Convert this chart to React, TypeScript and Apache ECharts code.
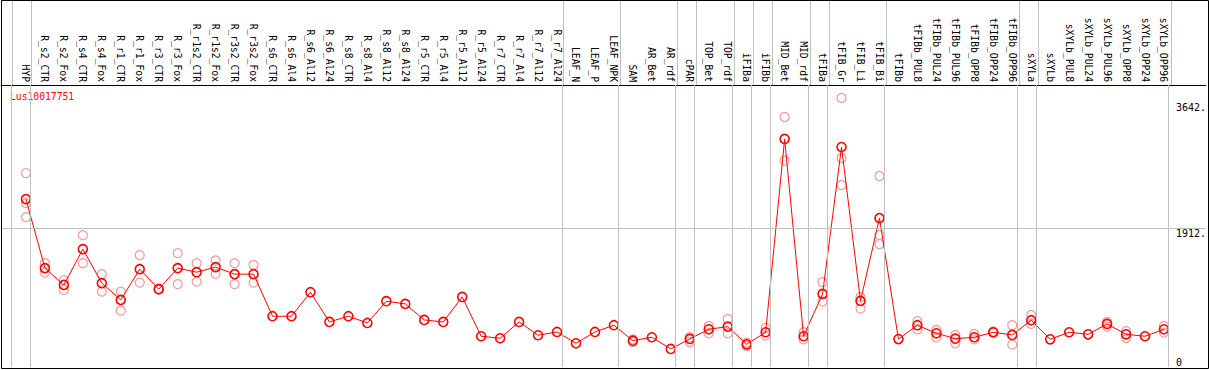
import React, { useEffect, useRef } from "react";
import * as echarts from "echarts";

const geneName = "Lus10017751";

const categories = [
  "HYP", "R_s2_CTR", "R_s2_Fox", "R_s4_CTR", "R_s4_Fox", "R_r1_CTR", "R_r1_Fox", "R_r3_CTR", "R_r3_Fox",
  "R_r1s2_CTR", "R_r1s2_Fox", "R_r3s2_CTR", "R_r3s2_Fox", "R_s6_CTR", "R_s6_Al4", "R_s6_Al12", "R_s6_Al24",
  "R_s8_CTR", "R_s8_Al4", "R_s8_Al12", "R_s8_Al24", "R_r5_CTR", "R_r5_Al4", "R_r5_Al12", "R_r5_Al24",
  "R_r7_CTR", "R_r7_Al4", "R_r7_Al12", "R_r7_Al24", "LEAF_N", "LEAF_P", "LEAF_NPK", "SAM", "AR_Bet", "AR_rdf",
  "cPAR", "TOP_Bet", "TOP_rdf", "iFIBa", "iFIBb", "MID_Bet", "MID_rdf", "tFIBa", "tFIB_Gr", "tFIB_Li", "tFIB_Bi",
  "tFIBb", "tFIBb_PUL8", "tFIBb_PUL24", "tFIBb_PUL96", "tFIBb_OPP8", "tFIBb_OPP24", "tFIBb_OPP96", "sXYLa",
  "sXYLb", "sXYLb_PUL8", "sXYLb_PUL24", "sXYLb_PUL96", "sXYLb_OPP8", "sXYLb_OPP24", "sXYLb_OPP96",
];

const meanValues = [
  2315, 1363, 1132, 1625, 1156, 925, 1349, 1073, 1363,
  1307, 1377, 1280, 1280, 700, 700, 1031, 621,
  700, 607, 907, 870, 649, 621, 966, 424,
  396, 621, 438, 483, 327, 483, 576, 363, 410, 249,
  387, 520, 557, 313, 479, 3144, 424, 1008, 3033, 911, 2053,
  385, 576, 465, 391, 410, 479, 442, 645,
  382, 479, 451, 594, 451, 424, 520,
];

const replicateValues: number[][] = [
  [2674, 2260, 2067], [1432, 1302], [1197, 1063], [1818, 1432], [1280, 1040], [1040, 777], [1542, 1164], [1080, 1066], [1570, 1142],
  [1432, 1178], [1468, 1284], [1432, 1142], [1408, 1164], [], [], [], [],
  [], [], [], [], [], [], [], [],
  [], [], [], [], [], [], [], [380, 345], [], [],
  [410, 345], [566, 465], [663, 465], [336, 290], [538, 432], [3447, 2844], [479, 382], [1169, 902], [3710, 2881, 2509], [962, 805], [2633, 1822, 1694],
  [], [631, 520], [511, 410], [442, 327], [456, 382], [490, 470], [576, 308], [718, 594],
  [], [], [], [622, 557], [493, 400], [], [566, 474],
];

// index of the last category of each group (-1 = before the first)
const groupEnds = [-1, 0, 28, 31, 34, 35, 37, 38, 39, 41, 42, 45, 52, 53, 60];

const yTickValues = [3642, 1912, 0];
const yTickLabels = ["3642.", "1912.", "0"];
const yGridValue = 1912;

export default function App() {
  const ref = useRef<HTMLDivElement>(null);
  useEffect(() => {
    document.body.style.margin = "0";
    const chart = echarts.init(ref.current!, null, { renderer: "svg" });
    const W = 1209;
    const H = 370;
    const left = 1;
    const right = 1;
    const band = 19;
    const firstX = 26;
    const xMin = -(firstX - left) / band;
    const xMax = xMin + (W - left - right) / band;
    const plotTop = 85;
    const plotBottom = 3;
    const yMax = 3888;
    const font = "DejaVu Sans Mono";
    const gray = "#c0c0c0";
    const lineX = groupEnds.map((g) => g + 0.25);
    const labelIdx = categories.map((_, i) => i);
    const labelMap: Record<string, string> = {};
    yTickValues.forEach((v, i) => (labelMap[String(v)] = yTickLabels[i]));

    const scatterData: number[][] = [];
    replicateValues.forEach((reps, i) => reps.forEach((v) => scatterData.push([i, v])));

    const vLineMark = {
      silent: true,
      symbol: ["none", "none"],
      label: { show: false },
      lineStyle: { color: gray, width: 1, type: "solid" },
      emphasis: { disabled: true },
    };

    chart.setOption({
      animation: false,
      grid: [
        { left, right, top: plotTop, bottom: plotBottom },
        { left, right, top: 0, height: plotTop },
      ],
      xAxis: [
        {
          type: "value",
          gridIndex: 0,
          position: "top",
          min: xMin,
          max: xMax,
          splitLine: { show: false },
          axisTick: { show: false },
          axisLine: { show: true, onZero: false, lineStyle: { color: "#000", width: 1 } },
          axisLabel: {
            customValues: labelIdx,
            formatter: (v: number) => categories[Math.round(v)] ?? "",
            rotate: 90,
            align: "right",
            verticalAlign: "middle",
            margin: 3,
            hideOverlap: false,
            fontFamily: font,
            fontSize: 9.7,
            color: "#000",
            showMinLabel: true,
            showMaxLabel: true,
          },
        },
        { type: "value", gridIndex: 1, min: xMin, max: xMax, show: false },
      ],
      yAxis: [
        {
          type: "value",
          gridIndex: 0,
          position: "right",
          min: 0,
          max: yMax,
          splitLine: { show: false },
          axisLine: { show: false },
          axisTick: { show: false },
          axisLabel: {
            customValues: yTickValues.filter((v) => v !== 0),
            formatter: (v: number) => labelMap[String(v)] ?? "",
            inside: true,
            align: "left",
            verticalAlign: "top",
            margin: 30,
            fontFamily: font,
            fontSize: 10,
            color: "#000",
          },
        },
        { type: "value", gridIndex: 1, min: 0, max: 1, show: false },
        {
          type: "value",
          gridIndex: 0,
          position: "right",
          min: 0,
          max: yMax,
          splitLine: { show: false },
          axisLine: { show: false },
          axisTick: { show: false },
          axisLabel: {
            customValues: yTickValues.filter((v) => v === 0),
            formatter: (v: number) => labelMap[String(v)] ?? "",
            inside: true,
            align: "left",
            verticalAlign: "bottom",
            margin: 30,
            fontFamily: font,
            fontSize: 10,
            color: "#000",
          },
        },
      ],
      series: [
        {
          type: "line",
          xAxisIndex: 0,
          yAxisIndex: 0,
          data: [],
          z: 1,
          markLine: {
            ...vLineMark,
            data: [...lineX.map((x) => ({ xAxis: x })), { yAxis: yGridValue }],
          },
        },
        {
          type: "line",
          xAxisIndex: 1,
          yAxisIndex: 1,
          data: [],
          z: 1,
          markLine: { ...vLineMark, data: lineX.map((x) => ({ xAxis: x })) },
        },
        {
          type: "scatter",
          xAxisIndex: 0,
          yAxisIndex: 0,
          data: scatterData,
          symbol: "circle",
          symbolSize: 9,
          z: 2,
          itemStyle: { color: "rgba(0,0,0,0)", borderColor: "#f09a9a", borderWidth: 1.2, opacity: 1 },
          emphasis: { disabled: true },
        },
        {
          type: "line",
          xAxisIndex: 0,
          yAxisIndex: 0,
          data: meanValues.map((v, i) => [i, v]),
          symbol: "circle",
          symbolSize: 9,
          showAllSymbol: true,
          z: 3,
          lineStyle: { color: "#ff0000", width: 1 },
          itemStyle: { color: "rgba(0,0,0,0)", borderColor: "#ff0000", borderWidth: 1.6 },
          emphasis: { disabled: true },
        },
      ],
      graphic: [
        {
          type: "rect",
          shape: { x: 1.5, y: 0.5, width: W - 2, height: H - 2 },
          style: { fill: "none", stroke: "#000", lineWidth: 1 },
          silent: true,
          z: 10,
        },
        {
          type: "text",
          x: 10,
          y: 96.5,
          style: { text: geneName, fill: "#ff0000", font: `9.7px ${font}`, verticalAlign: "middle" },
          silent: true,
        },
      ],
    });
    return () => chart.dispose();
  }, []);
  return <div ref={ref} style={{ width: 1209, height: 370 }} />;
}
